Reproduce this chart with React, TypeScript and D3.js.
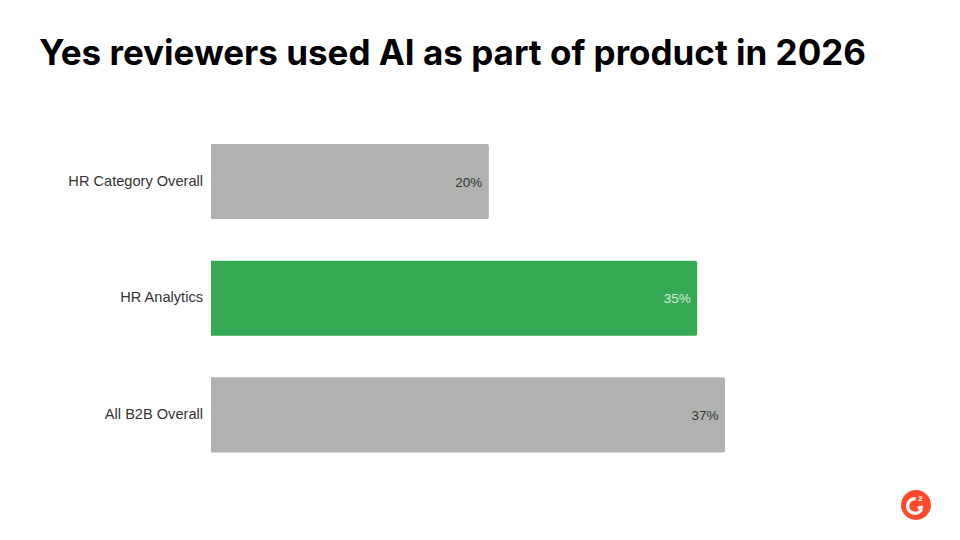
import React from "react";
import * as d3 from "d3";

const categories = ["HR Category Overall", "HR Analytics", "All B2B Overall"];
const values = [20, 35, 37];
const labels = ["20%", "35%", "37%"];
const fills = ["#b0b2b0", "#36a954", "#b0b2b0"];
const labelColors = ["#333333", "#d5eedb", "#333333"];

const W = 960;
const H = 540;

function roundedRight(x0: number, x1: number, y: number, h: number, r: number) {
  const p = d3.path();
  p.moveTo(x0, y);
  p.lineTo(x1 - r, y);
  p.quadraticCurveTo(x1, y, x1, y + r);
  p.lineTo(x1, y + h - r);
  p.quadraticCurveTo(x1, y + h, x1 - r, y + h);
  p.lineTo(x0, y + h);
  p.closePath();
  return p.toString();
}

export default function App() {
  const x = d3.scaleLinear().domain([0, 37]).range([211, 725]);
  const y = d3
    .scaleBand<string>()
    .domain(categories)
    .range([144 - 20.75, 452.4 + 20.75])
    .paddingInner(0.356)
    .paddingOuter(0.178);
  const arc = d3.arc();
  const gArc = arc({
    innerRadius: 5.6,
    outerRadius: 9,
    startAngle: 2.0,
    endAngle: Math.PI * 2 + 0.1,
  } as any) as string;
  return (
    <svg
      width={W}
      height={H}
      viewBox={`0 0 ${W} ${H}`}
      style={{ position: "absolute", left: 0, top: 0, background: "#fff" }}
    >
      <text
        x={39}
        y={65}
        fontFamily="Inter, sans-serif"
        fontWeight={700}
        fontSize={35}
        fill="#000"
        textLength={827}
        lengthAdjust="spacingAndGlyphs"
      >
        Yes reviewers used AI as part of product in 2026
      </text>
      {categories.map((c, i) => {
        const by = y(c)!;
        const bh = y.bandwidth();
        return (
          <g key={c}>
            <path d={roundedRight(x(0), x(values[i]), by, bh, 2)} fill={fills[i]} />
            <text
              x={x(0) - 8}
              y={by + bh / 2 + 4}
              textAnchor="end"
              fontFamily="Liberation Sans, Arial, sans-serif"
              fontSize={14.6}
              fill="#333333"
            >
              {c}
            </text>
            <text
              x={x(values[i]) - 6.5}
              y={by + bh / 2 + 5}
              textAnchor="end"
              fontFamily="Liberation Sans, Arial, sans-serif"
              fontSize={13.5}
              fill={labelColors[i]}
            >
              {labels[i]}
            </text>
          </g>
        );
      })}
      <g transform="translate(916,505)">
        <circle r={15} fill="#ff492c" />
        <path d={gArc} fill="#fff" transform="translate(-1,1)" />
        <rect x={1.5} y={1} width={5.5} height={2.8} fill="#fff" transform="rotate(-12 4 2)" />
        <text
          x={2.2}
          y={-4.2}
          fontFamily="Liberation Sans, Arial, sans-serif"
          fontWeight={700}
          fontSize={8}
          fill="#fff"
        >
          2
        </text>
      </g>
    </svg>
  );
}
